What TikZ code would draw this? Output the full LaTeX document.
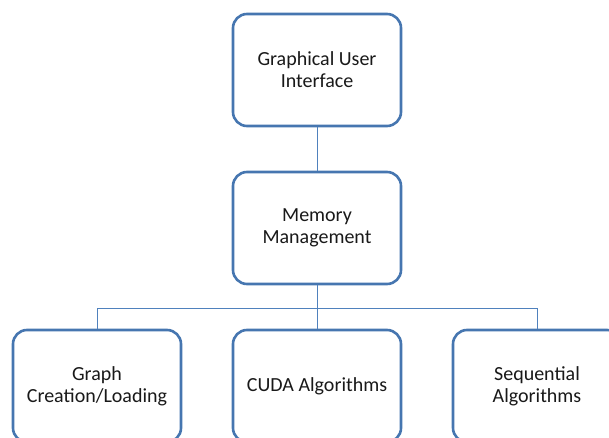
\documentclass[tikz,border=0pt]{standalone}
\usepackage{fontspec}
\setmainfont{Carlito}
\usepackage{tikz}
\usetikzlibrary{positioning}
\definecolor{boxblue}{RGB}{70,118,176}
\definecolor{lineblue}{RGB}{79,129,189}

\tikzset{
  module/.style={draw=boxblue, line width=2.6pt, rounded corners=14pt, fill=white,
    minimum width=168pt, minimum height=112pt, align=center,
    font=\fontsize{20}{22}\selectfont, text=black!90},
  link/.style={draw=lineblue, line width=1pt}
}

\begin{document}
\begin{tikzpicture}[x=1pt, y=-1pt]
    \useasboundingbox (0,0) rectangle (609,438);

    % Top level
    \node[module] (gui) at (317,70) {Graphical User\\Interface};

    % Middle level
    \node[module] (mem) at (317,228) {Memory\\Management};

    % Bottom level
    \node[module] (graph) at (97,386) {Graph\\Creation/Loading};
    \node[module] (cuda) at (317,386) {CUDA Algorithms};
    \node[module] (seq) at (537,386) {Sequential\\Algorithms};

    % Connectors
    \coordinate (bar) at (317,308);
    \draw[link] (gui.south) -- (mem.north);
    \draw[link] (mem.south) -- (bar);
    \draw[link] (bar) -| (graph.north);
    \draw[link] (bar) -- (cuda.north);
    \draw[link] (bar) -| (seq.north);
\end{tikzpicture}
\end{document}
